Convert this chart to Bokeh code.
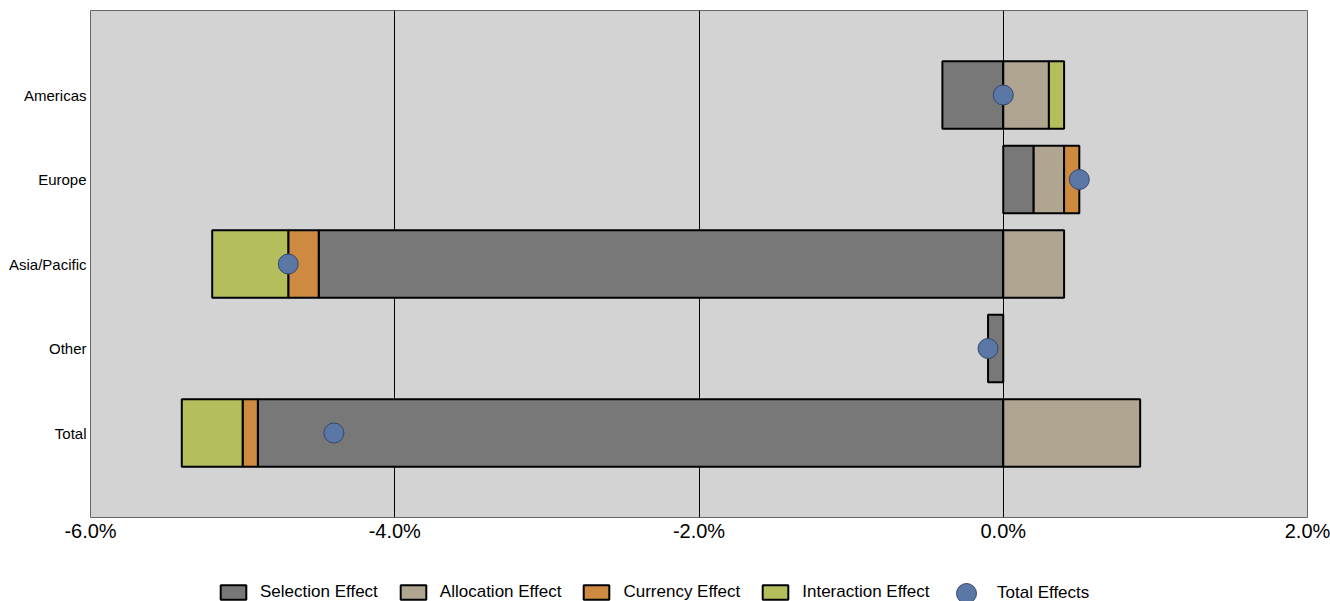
from bokeh.plotting import figure
from bokeh.layouts import column
from bokeh.models import (Range1d, FactorRange, FixedTicker, PrintfTickFormatter,
                          Legend, LegendItem, ColumnDataSource)
from bokeh.embed import file_html
from bokeh.resources import INLINE

# Attribution effects by region, in percent
regions = ["Americas", "Europe", "Asia/Pacific", "Other", "Total"]
selection = [-0.4, 0.2, -4.5, -0.1, -4.9]
allocation = [0.3, 0.2, 0.4, 0.0, 0.9]
currency = [0.0, 0.1, -0.2, 0.0, -0.1]
interaction = [0.1, 0.0, -0.5, 0.0, -0.4]
total_effects = [0.0, 0.5, -4.7, -0.1, -4.4]

series_names = ["Selection Effect", "Allocation Effect", "Currency Effect", "Interaction Effect"]
series_values = [selection, allocation, currency, interaction]
series_colors = ["#787878", "#afa590", "#cd8a40", "#b5be5c"]
x_ticks = [-6, -4, -2, 0, 2]

FONT = "Liberation Sans"
BAR_LINE = dict(line_color="black", line_width=2)
DOT_STYLE = dict(marker="circle", fill_color="#5b77a5", line_color="#34466a", line_width=1)
NAN = float("nan")

p = figure(
    width=1330, height=560,
    x_range=Range1d(-6, 2),
    y_range=FactorRange(*regions[::-1], range_padding=0.2),
    output_backend="svg", toolbar_location=None,
    min_border_left=90, min_border_right=23, min_border_top=10, min_border_bottom=43,
)
p.background_fill_color = "#d3d3d3"
p.border_fill_color = "white"
p.outline_line_color = "#666666"
p.outline_line_width = 1

# Vertical gridlines only at interior ticks
p.ygrid.grid_line_color = None
p.xgrid.ticker = FixedTicker(ticks=[-4, -2, 0])
p.xgrid.grid_line_color = "black"
p.xgrid.grid_line_width = 1

p.xaxis.ticker = FixedTicker(ticks=x_ticks)
p.xaxis.formatter = PrintfTickFormatter(format="%.1f%%")
p.xaxis.axis_line_color = None
p.xaxis.major_tick_line_color = None
p.xaxis.minor_tick_line_color = None
p.xaxis.major_tick_out = 0
p.xaxis.major_tick_in = 0
p.xaxis.minor_tick_out = 0
p.xaxis.major_label_standoff = 2
p.xaxis.major_label_text_font = FONT
p.xaxis.major_label_text_font_size = "20px"
p.xaxis.major_label_text_color = "black"

p.yaxis.axis_line_color = None
p.yaxis.major_tick_line_color = None
p.yaxis.minor_tick_line_color = None
p.yaxis.major_tick_out = 0
p.yaxis.major_tick_in = 0
p.yaxis.major_label_standoff = 4
p.yaxis.major_label_text_font = FONT
p.yaxis.major_label_text_font_size = "15px"
p.yaxis.major_label_text_color = "black"

# Diverging stacks: positive parts build rightwards, negative parts leftwards
pos_edge = [0.0] * len(regions)
neg_edge = [0.0] * len(regions)
for name, vals, color in zip(series_names, series_values, series_colors):
    ys, lefts, rights = [], [], []
    for i, v in enumerate(vals):
        if v == 0:
            continue
        if v > 0:
            l, r = pos_edge[i], pos_edge[i] + v
            pos_edge[i] = r
        else:
            l, r = neg_edge[i] + v, neg_edge[i]
            neg_edge[i] = l
        ys.append(regions[i]); lefts.append(l); rights.append(r)
    src = ColumnDataSource(dict(y=ys, left=lefts, right=rights))
    p.hbar(y="y", left="left", right="right", height=0.8, source=src,
           fill_color=color, **BAR_LINE)

p.scatter(x=total_effects, y=regions, size=20, **DOT_STYLE)

# Legend strip underneath the chart; its swatch renderers carry no drawable
# points so only the legend entries show.
leg = figure(width=1330, height=41, x_range=Range1d(0, 1), y_range=Range1d(0, 1),
             output_backend="svg", toolbar_location=None,
             min_border_left=0, min_border_right=0, min_border_top=0, min_border_bottom=0)
leg.axis.visible = False
leg.grid.visible = False
leg.outline_line_color = None
leg.background_fill_color = "white"

legend_style = dict(orientation="horizontal", padding=0, margin=0,
                    border_line_color=None, background_fill_alpha=0,
                    label_text_font=FONT, label_text_font_size="17px",
                    label_text_color="black")

items = []
for name, color in zip(series_names, series_colors):
    r = leg.hbar(y=[NAN], left=[NAN], right=[NAN], height=0.8, fill_color=color, **BAR_LINE)
    items.append(LegendItem(label=name, renderers=[r]))
leg.add_layout(Legend(items=items, location=(127, -1), glyph_width=32, glyph_height=18,
                      label_standoff=11, spacing=19, **legend_style), "center")

# The marker entry gets a larger swatch box so its dot matches the chart's dots
rd = leg.scatter(x=[NAN], y=[NAN], size=20, **DOT_STYLE)
leg.add_layout(Legend(items=[LegendItem(label="Total Effects", renderers=[rd])],
                      location=(851, -17), glyph_width=50, glyph_height=50,
                      label_standoff=6, **legend_style), "center")

layout = column(p, leg, spacing=0)
open("out.html", "w").write(file_html(layout, INLINE))
